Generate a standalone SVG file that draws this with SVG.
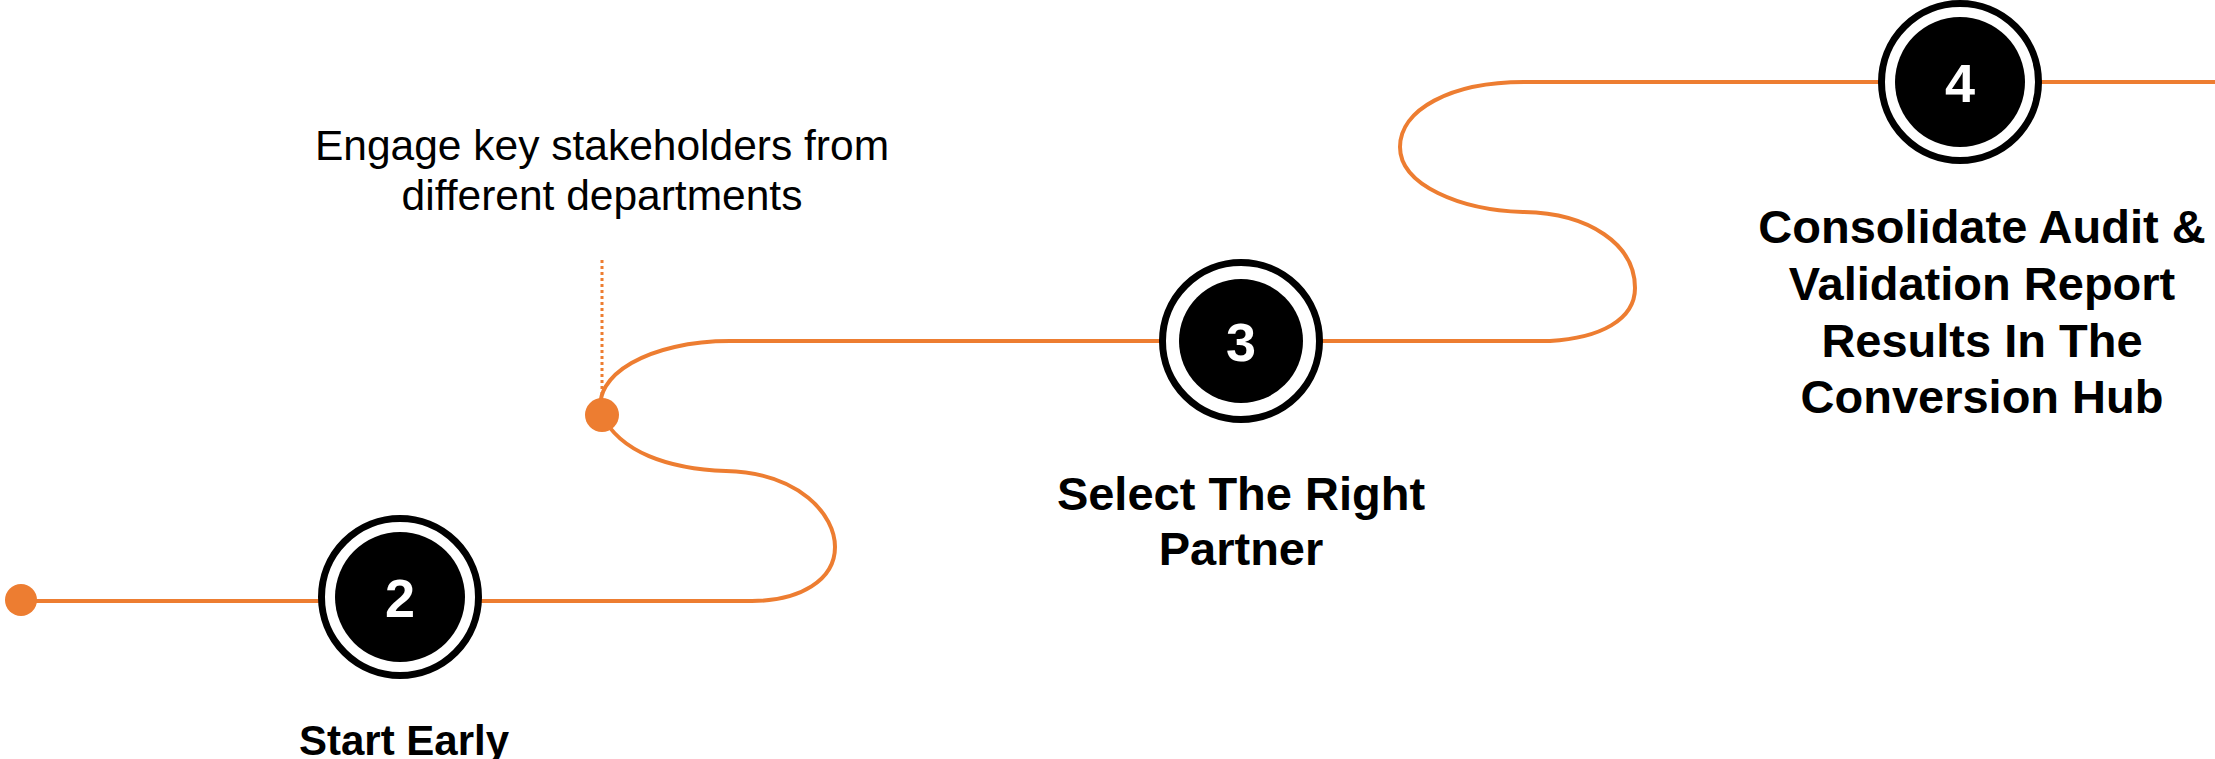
<svg xmlns="http://www.w3.org/2000/svg" width="2215" height="759" viewBox="0 0 2215 759">
  <style>
    .conn { fill: none; stroke: #ED7D31; stroke-width: 4; stroke-linecap: butt; }
    .dotted { fill: none; stroke: #ED7D31; stroke-width: 3; stroke-dasharray: 3 3; }
    .dot { fill: #ED7D31; }
    .ring { fill: #FFFFFF; stroke: #000000; stroke-width: 7; }
    .core { fill: #000000; }
    .num { font-family: "Liberation Sans", Arial, sans-serif; font-weight: bold; font-size: 54px; fill: #FFFFFF; text-anchor: middle; }
    .title { font-family: "Liberation Sans", Arial, sans-serif; font-weight: bold; font-size: 47px; fill: #000000; text-anchor: middle; }
    .title-sm { font-family: "Liberation Sans", Arial, sans-serif; font-weight: bold; font-size: 42px; fill: #000000; text-anchor: middle; }
    .desc { font-family: "Liberation Sans", Arial, sans-serif; font-size: 42.5px; fill: #000000; text-anchor: middle; }
  </style>
  <rect width="2215" height="759" fill="#FFFFFF"/>

  <g id="connectors">
    <path class="conn" d="M21,601 L752,601 C800,601 835,580 835,547 C835,515 800,473 726,471 C668,469 620,452 602,415 C590,375 650,341 730,341 L1550,341 C1600,338 1635,320 1635,288 C1635,245 1590,213 1523,212 C1460,210 1400,185 1400,147 C1400,110 1450,82 1524,82 L2215,82"/>
    <line class="dotted" x1="602" y1="260" x2="602" y2="398"/>
  </g>

  <g id="start-dot">
    <circle class="dot" cx="21" cy="600" r="16"/>
  </g>

  <g id="milestone-dot">
    <circle class="dot" cx="602" cy="415" r="17"/>
  </g>

  <g id="note-stakeholders">
    <text class="desc" x="602" y="160">Engage key stakeholders from</text>
    <text class="desc" x="602" y="210">different departments</text>
  </g>

  <g id="step-2">
    <circle class="ring" cx="400" cy="597" r="78.5"/>
    <circle class="core" cx="400" cy="597" r="65"/>
    <text class="num" x="400" y="617">2</text>
    <text class="title-sm" x="404" y="755">Start Early</text>
  </g>

  <g id="step-3">
    <circle class="ring" cx="1241" cy="341" r="78.5"/>
    <circle class="core" cx="1241" cy="341" r="62"/>
    <text class="num" x="1241" y="361">3</text>
    <text class="title" x="1241" y="510">Select The Right</text>
    <text class="title" x="1241" y="565">Partner</text>
  </g>

  <g id="step-4">
    <circle class="ring" cx="1960" cy="82" r="78.5"/>
    <circle class="core" cx="1960" cy="82" r="65"/>
    <text class="num" x="1960" y="102">4</text>
    <text class="title" x="1982" y="243">Consolidate Audit &amp;</text>
    <text class="title" x="1982" y="300">Validation Report</text>
    <text class="title" x="1982" y="357">Results In The</text>
    <text class="title" x="1982" y="413">Conversion Hub</text>
  </g>
</svg>
